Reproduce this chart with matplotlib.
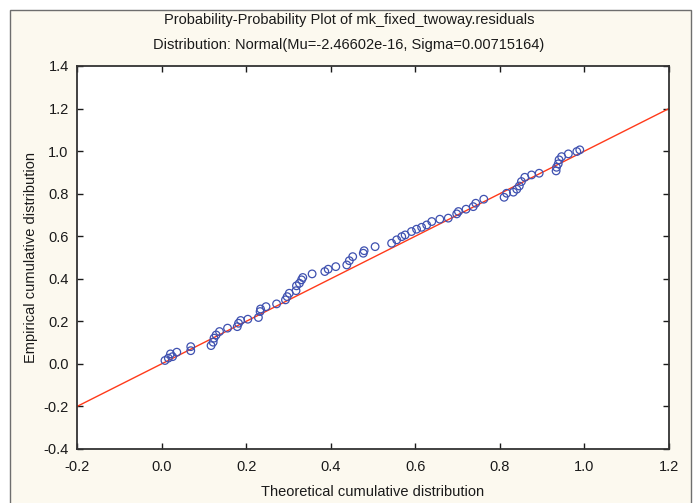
import matplotlib
matplotlib.use("Agg")
import matplotlib.pyplot as plt
from matplotlib.patches import Rectangle

plt.rcParams['font.family'] = ['Liberation Sans', 'DejaVu Sans']

theoretical = [0.008, 0.016, 0.021, 0.026, 0.036, 0.069, 0.069, 0.117, 0.122, 0.124,
               0.129, 0.137, 0.156, 0.179, 0.182, 0.187, 0.204, 0.229, 0.233, 0.234,
               0.247, 0.272, 0.293, 0.297, 0.302, 0.318, 0.319, 0.326, 0.331, 0.334,
               0.356, 0.386, 0.394, 0.412, 0.438, 0.444, 0.452, 0.477, 0.479, 0.505,
               0.544, 0.556, 0.568, 0.576, 0.591, 0.603, 0.615, 0.627, 0.639, 0.658,
               0.678, 0.698, 0.702, 0.720, 0.737, 0.743, 0.762, 0.810, 0.816, 0.832,
               0.840, 0.846, 0.851, 0.859, 0.875, 0.893, 0.933, 0.934, 0.938, 0.940,
               0.946, 0.962, 0.982, 0.989]
empirical = [0.016, 0.027, 0.047, 0.034, 0.055, 0.081, 0.062, 0.086, 0.102, 0.121,
             0.136, 0.152, 0.168, 0.175, 0.191, 0.204, 0.210, 0.218, 0.246, 0.258,
             0.269, 0.282, 0.301, 0.316, 0.332, 0.344, 0.367, 0.379, 0.395, 0.406,
             0.423, 0.434, 0.445, 0.457, 0.465, 0.485, 0.504, 0.520, 0.532, 0.551,
             0.567, 0.583, 0.598, 0.606, 0.622, 0.633, 0.642, 0.653, 0.669, 0.680,
             0.685, 0.705, 0.716, 0.727, 0.739, 0.755, 0.774, 0.783, 0.802, 0.807,
             0.821, 0.836, 0.857, 0.877, 0.888, 0.896, 0.907, 0.924, 0.940, 0.959,
             0.974, 0.987, 0.998, 1.006]
ref_line = [-0.2, 1.2]
xticks = [-0.2, 0.0, 0.2, 0.4, 0.6, 0.8, 1.0, 1.2]
yticks = [-0.4, -0.2, 0.0, 0.2, 0.4, 0.6, 0.8, 1.0, 1.2, 1.4]

fig = plt.figure(figsize=(6.97, 5.03), dpi=100, facecolor='white')
fig.patches.append(Rectangle((10/697, -0.02), (691-10)/697, 1.02 - 10/503,
                             transform=fig.transFigure, facecolor='#fcf9ef',
                             edgecolor='#6e6e6e', linewidth=1.0, zorder=-10))

ax = fig.add_axes([77/697, 1 - 449/503, (669-77)/697, (449-66)/503])
ax.set_facecolor('white')
ax.plot(ref_line, ref_line, color='#ff3a1a', linewidth=1.0, zorder=2)
ax.scatter(theoretical, empirical, s=30, facecolors='none', edgecolors='#3f51b0',
           linewidths=0.9, zorder=3)
ax.set_xlim(-0.2, 1.2)
ax.set_ylim(-0.4, 1.4)
ax.set_xticks(xticks)
ax.set_yticks(yticks)
ax.set_xticklabels([f"{t:.1f}" for t in xticks])
ax.set_yticklabels([f"{t:.1f}" for t in yticks])
ax.tick_params(direction='in', length=4, width=1, top=True, right=True,
               labelsize=10.5, colors='#1a1a1a')
ax.tick_params(axis='x', pad=8)
ax.tick_params(axis='y', pad=6)
for s in ax.spines.values():
    s.set_color('#333333')
    s.set_linewidth(1.3)

ax.set_xlabel('Theoretical cumulative distribution', fontsize=10.5, color='#1a1a1a', labelpad=8)
ax.set_ylabel('Empirical cumulative distribution', fontsize=10.5, color='#1a1a1a', labelpad=4)
fig.text(349/697, 1 - 20/503, 'Probability-Probability Plot of mk_fixed_twoway.residuals',
         ha='center', va='center', fontsize=10.5, color='#1a1a1a')
fig.text(349/697, 1 - 45/503, 'Distribution: Normal(Mu=-2.46602e-16, Sigma=0.00715164)',
         ha='center', va='center', fontsize=10.5, color='#1a1a1a')

fig.savefig('out.png', dpi=100, facecolor=fig.get_facecolor())
